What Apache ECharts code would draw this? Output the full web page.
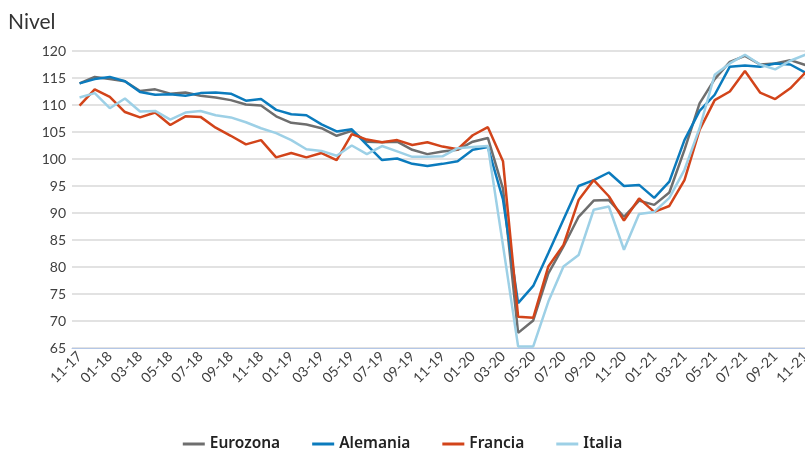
<!DOCTYPE html>
<html>
<head>
<meta charset="utf-8">
<script src="https://cdn.jsdelivr.net/npm/echarts@6/dist/echarts.min.js"></script>
<style>
    html, body { margin: 0; padding: 0; background: #fff; }
    #chart { width: 805px; height: 449px; }
</style>
</head>
<body>
<div id="chart"></div>
<script>
// meses 11-17 .. 11-21
const months = [
    '11-17', '12-17', '01-18', '02-18', '03-18', '04-18', '05-18', '06-18', '07-18', '08-18',
    '09-18', '10-18', '11-18', '12-18', '01-19', '02-19', '03-19', '04-19', '05-19', '06-19',
    '07-19', '08-19', '09-19', '10-19', '11-19', '12-19', '01-20', '02-20', '03-20', '04-20',
    '05-20', '06-20', '07-20', '08-20', '09-20', '10-20', '11-20', '12-20', '01-21', '02-21',
    '03-21', '04-21', '05-21', '06-21', '07-21', '08-21', '09-21', '10-21', '11-21'
]

const eurozona = [
    114.0, 115.2, 114.8, 114.4, 112.6, 112.9, 112.1, 112.3, 111.7, 111.4,
    110.9, 110.1, 109.9, 107.9, 106.7, 106.4, 105.7, 104.3, 105.2, 103.2,
    103.1, 103.2, 101.7, 100.9, 101.4, 101.7, 103.2, 103.9, 94.5, 67.8,
    70.1, 78.8, 83.8, 89.3, 92.3, 92.4, 89.3, 92.3, 91.5, 93.8,
    101.7, 110.3, 114.8, 118.0, 119.1, 117.5, 117.7, 118.3, 117.4
]
const alemania = [
    114.0, 114.8, 115.2, 114.4, 112.4, 111.9, 112.0, 111.7, 112.2, 112.3,
    112.1, 110.8, 111.1, 109.1, 108.3, 108.1, 106.4, 105.1, 105.5, 102.6,
    99.8, 100.1, 99.1, 98.7, 99.1, 99.6, 101.7, 102.2, 92.5, 73.3,
    76.5, 82.6, 88.8, 95.0, 96.1, 97.5, 95.0, 95.2, 92.8, 95.8,
    103.5, 108.9, 111.9, 117.1, 117.3, 117.1, 117.7, 117.5, 116.0
]
const francia = [
    109.9, 112.9, 111.5, 108.7, 107.7, 108.6, 106.3, 107.9, 107.8, 105.8,
    104.3, 102.7, 103.5, 100.3, 101.1, 100.3, 101.1, 99.8, 104.6, 103.6,
    103.1, 103.5, 102.6, 103.1, 102.3, 101.8, 104.4, 105.9, 99.6, 70.8,
    70.6, 80.1, 84.1, 92.4, 96.1, 93.1, 88.6, 92.7, 90.2, 91.3,
    96.1, 105.4, 110.9, 112.5, 116.3, 112.3, 111.1, 113.1, 116.0
]
const italia = [
    111.4, 112.2, 109.4, 111.2, 108.8, 108.9, 107.3, 108.6, 108.9, 108.1,
    107.7, 106.8, 105.7, 104.8, 103.5, 101.8, 101.5, 100.6, 102.5, 100.9,
    102.4, 101.4, 100.4, 100.4, 100.5, 102.0, 102.2, 102.4, 84.0, 65.3,
    65.3, 73.6, 80.1, 82.2, 90.6, 91.2, 83.2, 89.8, 90.2, 92.8,
    98.0, 105.7, 115.6, 117.7, 119.3, 117.5, 116.6, 118.2, 119.3
]

const seriesNames = ['Eurozona', 'Alemania', 'Francia', 'Italia']
const seriesColors = ['#6e6e6e', '#0b7bbd', '#d2441a', '#9dd0e6']
const seriesData = [eurozona, alemania, francia, italia]

const chart = echarts.init(document.getElementById('chart'))

const option = {
    animation: false,
    title: {
        text: 'Nivel',
        left: 3,
        top: 7,
        textStyle: {
            fontFamily: 'Lato',
            fontSize: 21,
            fontWeight: 'normal',
            color: '#333'
        }
    },
    legend: {
        top: 431,
        left: 'center',
        itemWidth: 22,
        itemHeight: 3,
        itemGap: 32,
        icon: 'rect',
        textStyle: {
            fontFamily: 'Noto Sans',
            fontSize: 15.5,
            fontWeight: 600,
            color: '#222'
        },
        data: seriesNames
    },
    // la rejilla sigue más allá del borde derecho, como en el original recortado
    grid: {
        left: 72,
        width: 741,
        top: 51,
        bottom: 101,
        containLabel: false,
        outerBoundsMode: 'none'
    },
    xAxis: {
        type: 'category',
        data: months,
        boundaryGap: true,
        axisLine: {
            lineStyle: { color: '#b4c7e7', width: 1 }
        },
        axisTick: { show: false },
        axisLabel: {
            interval: 1,
            rotate: 45,
            margin: 6,
            fontFamily: 'Lato',
            fontSize: 14,
            color: '#404040'
        }
    },
    yAxis: {
        type: 'value',
        min: 65,
        max: 120,
        interval: 5,
        axisLine: { show: false },
        axisTick: { show: false },
        axisLabel: {
            margin: 6,
            fontFamily: 'Lato',
            fontSize: 14,
            color: '#404040'
        },
        splitLine: {
            lineStyle: { color: '#d9d9d9', width: 1.5 }
        }
    },
    series: seriesNames.map((name, i) => ({
        name: name,
        type: 'line',
        data: seriesData[i],
        symbol: 'none',
        lineStyle: { width: 2.5, color: seriesColors[i] },
        itemStyle: { color: seriesColors[i] }
    }))
}

chart.setOption(option)
</script>
</body>
</html>
